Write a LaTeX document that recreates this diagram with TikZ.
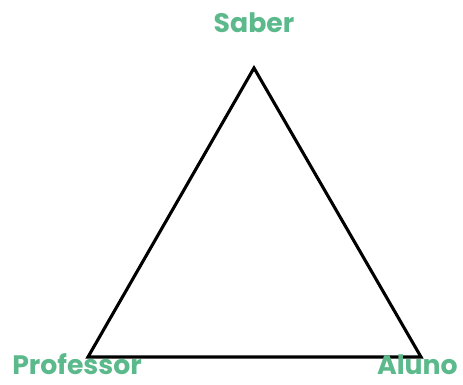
\documentclass[tikz,border=0pt]{standalone}
\usepackage{fontspec}
\setmainfont{Poppins}
\usepackage{xcolor}
\definecolor{labelgreen}{HTML}{5BB98B}
\usetikzlibrary{positioning}

\begin{document}
\begin{tikzpicture}[
  x=0.025cm, y=0.025cm,
  label/.style={font=\fontsize{19}{23}\selectfont\bfseries, text=labelgreen, inner sep=0pt},
  edge/.style={line width=2.2pt, black}
]
\useasboundingbox (0,0) rectangle (463,385);
% corners of the triangle
\coordinate (top) at (254,317);
\coordinate (left) at (88,28);
\coordinate (right) at (421,28);
\draw[edge] (top) -- (right) -- (left) -- cycle;
% labels
\node[label, anchor=base] (saber) at (254,352) {Saber};
\node[label, anchor=base west] (professor) at (12,10) {Professor};
\node[label, anchor=base east] (aluno) at (458,10) {Aluno};
\end{tikzpicture}
\end{document}
